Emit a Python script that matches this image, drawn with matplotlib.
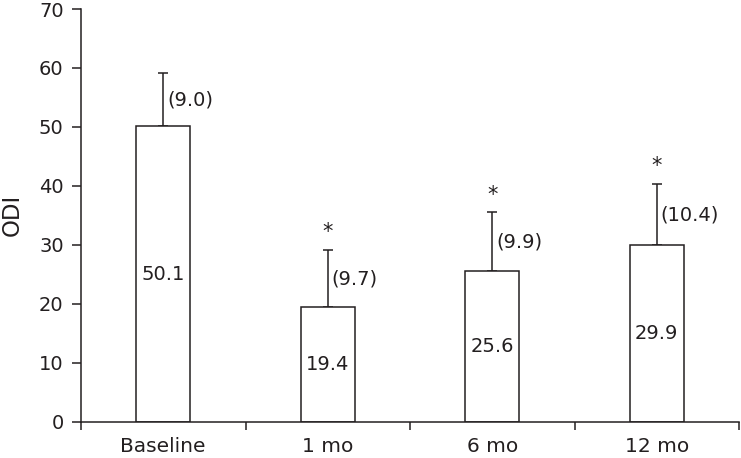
import numpy as np
import matplotlib.pyplot as plt

plt.rcParams['font.family'] = ['DejaVu Sans']

categories = ["Baseline", "1 mo", "6 mo", "12 mo"]
odi_mean = [50.1, 19.4, 25.6, 29.9]
odi_sd = [9.0, 9.7, 9.9, 10.4]
significant = [False, True, True, True]

ink = "#231f20"
fig = plt.figure(figsize=(7.41, 4.58), dpi=100)
ax = fig.add_axes([81 / 741, 36.3 / 458, 658 / 741, 412.7 / 458])

x = np.arange(len(categories))
ax.bar(x, odi_mean, width=0.33, color="white", edgecolor=ink, linewidth=1.1, zorder=2)
ax.errorbar(x, odi_mean, yerr=[np.zeros(len(x)), odi_sd], fmt="none",
            ecolor=ink, elinewidth=1.1, capsize=3.4, capthick=1.1, zorder=1)

for xi, m, s, sig in zip(x, odi_mean, odi_sd, significant):
    ax.text(xi, m / 2, f"{m:.1f}", ha="center", va="center", fontsize=14, color=ink)
    ax.text(xi + 0.025, m + s / 2, f"({s:.1f})", ha="left", va="center", fontsize=14, color=ink)
    if sig:
        ax.text(xi, m + s + 1.3, "*", ha="center", va="bottom", fontsize=15, color=ink)

ax.set_xlim(-0.5, 3.5)
ax.set_ylim(0, 70)
ax.set_yticks(range(0, 71, 10))
ax.set_xticks([-0.5, 0.5, 1.5, 2.5, 3.5])
ax.set_xticklabels([])
ax.set_xticks(x, minor=True)
ax.set_xticklabels(categories, minor=True)
ax.tick_params(axis="x", which="minor", length=0, pad=11, labelsize=14.5, labelcolor=ink)
ax.tick_params(axis="x", which="major", length=6, width=1.1, color=ink)
ax.tick_params(axis="y", length=6.5, width=1.1, labelsize=14, color=ink, labelcolor=ink, pad=6)

for side in ["top", "right"]:
    ax.spines[side].set_visible(False)
for side in ["left", "bottom"]:
    ax.spines[side].set_linewidth(1.1)
    ax.spines[side].set_color(ink)

ax.set_ylabel("ODI", fontsize=16.5, labelpad=11, color=ink)

fig.savefig("out.png", dpi=100)
